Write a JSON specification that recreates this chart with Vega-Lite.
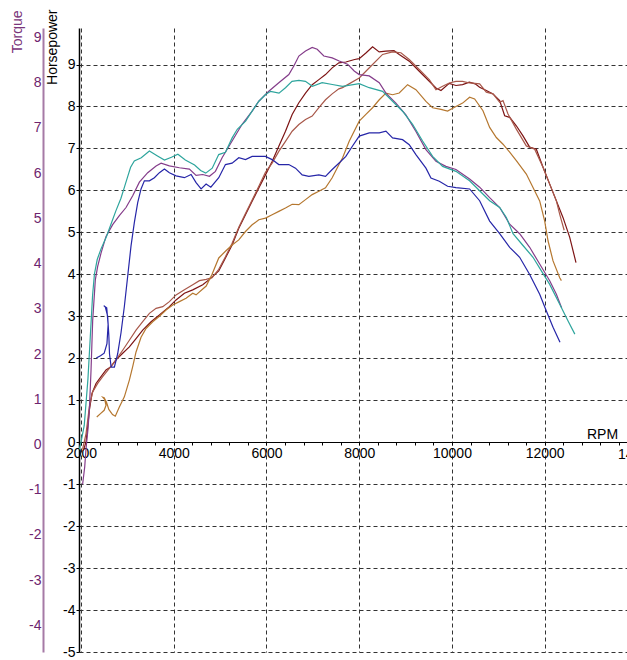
{
  "$schema": "https://vega.github.io/schema/vega-lite/v6.json",
  "autosize": {"type": "none"},
  "width": 548,
  "height": 624,
  "padding": {"left": 79, "top": 28, "right": 0, "bottom": 8},
  "background": "white",
  "config": {"view": {"stroke": null}, "font": "Liberation Sans"},
  "data": {"values": [
    {"curve":"Torque 1","rpm":2035,"value":-0.88},{"curve":"Torque 1","rpm":2080,"value":-0.5},{"curve":"Torque 1","rpm":2108,"value":-0.1},{"curve":"Torque 1","rpm":2150,"value":0.33},{"curve":"Torque 1","rpm":2180,"value":0.76},{"curve":"Torque 1","rpm":2216,"value":1.63},{"curve":"Torque 1","rpm":2252,"value":2.74},{"curve":"Torque 1","rpm":2309,"value":3.64},{"curve":"Torque 1","rpm":2360,"value":3.94},{"curve":"Torque 1","rpm":2432,"value":4.23},{"curve":"Torque 1","rpm":2540,"value":4.6},{"curve":"Torque 1","rpm":2683,"value":4.86},{"curve":"Torque 1","rpm":2827,"value":5.06},{"curve":"Torque 1","rpm":2971,"value":5.24},{"curve":"Torque 1","rpm":3115,"value":5.5},{"curve":"Torque 1","rpm":3259,"value":5.8},{"curve":"Torque 1","rpm":3439,"value":6.01},{"curve":"Torque 1","rpm":3619,"value":6.16},{"curve":"Torque 1","rpm":3727,"value":6.22},{"curve":"Torque 1","rpm":3906,"value":6.16},{"curve":"Torque 1","rpm":4122,"value":6.12},{"curve":"Torque 1","rpm":4338,"value":6.09},{"curve":"Torque 1","rpm":4482,"value":5.95},{"curve":"Torque 1","rpm":4626,"value":5.97},{"curve":"Torque 1","rpm":4770,"value":5.93},{"curve":"Torque 1","rpm":4899,"value":6.04},{"curve":"Torque 1","rpm":5043,"value":6.34},{"curve":"Torque 1","rpm":5259,"value":6.71},{"curve":"Torque 1","rpm":5475,"value":7.08},{"curve":"Torque 1","rpm":5691,"value":7.37},{"curve":"Torque 1","rpm":5835,"value":7.59},{"curve":"Torque 1","rpm":6050,"value":7.81},{"curve":"Torque 1","rpm":6266,"value":8.0},{"curve":"Torque 1","rpm":6482,"value":8.18},{"curve":"Torque 1","rpm":6590,"value":8.37},{"curve":"Torque 1","rpm":6698,"value":8.59},{"curve":"Torque 1","rpm":6842,"value":8.7},{"curve":"Torque 1","rpm":6986,"value":8.78},{"curve":"Torque 1","rpm":7094,"value":8.74},{"curve":"Torque 1","rpm":7237,"value":8.59},{"curve":"Torque 1","rpm":7417,"value":8.55},{"curve":"Torque 1","rpm":7568,"value":8.48},{"curve":"Torque 1","rpm":7748,"value":8.41},{"curve":"Torque 1","rpm":7892,"value":8.26},{"curve":"Torque 1","rpm":8000,"value":8.18},{"curve":"Torque 1","rpm":8216,"value":8.15},{"curve":"Torque 1","rpm":8432,"value":8.0},{"curve":"Torque 1","rpm":8576,"value":7.77},{"curve":"Torque 1","rpm":8791,"value":7.55},{"curve":"Torque 1","rpm":9007,"value":7.29},{"curve":"Torque 1","rpm":9223,"value":6.92},{"curve":"Torque 1","rpm":9439,"value":6.52},{"curve":"Torque 1","rpm":9655,"value":6.26},{"curve":"Torque 1","rpm":9870,"value":6.15},{"curve":"Torque 1","rpm":10086,"value":6.08},{"curve":"Torque 1","rpm":10381,"value":5.87},{"curve":"Torque 1","rpm":10597,"value":5.69},{"curve":"Torque 1","rpm":10813,"value":5.46},{"curve":"Torque 1","rpm":11029,"value":5.24},{"curve":"Torque 1","rpm":11245,"value":4.87},{"curve":"Torque 1","rpm":11460,"value":4.66},{"curve":"Torque 1","rpm":11676,"value":4.36},{"curve":"Torque 1","rpm":11892,"value":3.99},{"curve":"Torque 1","rpm":12108,"value":3.62},{"curve":"Torque 1","rpm":12252,"value":3.32},{"curve":"Torque 1","rpm":12366,"value":3.02},

    {"curve":"Torque 2","rpm":1965,"value":-0.11},{"curve":"Torque 2","rpm":2000,"value":0.05},{"curve":"Torque 2","rpm":2070,"value":0.42},{"curve":"Torque 2","rpm":2150,"value":1.45},{"curve":"Torque 2","rpm":2200,"value":2.37},{"curve":"Torque 2","rpm":2250,"value":3.3},{"curve":"Torque 2","rpm":2290,"value":3.77},{"curve":"Torque 2","rpm":2350,"value":4.09},{"curve":"Torque 2","rpm":2430,"value":4.32},{"curve":"Torque 2","rpm":2550,"value":4.6},{"curve":"Torque 2","rpm":2650,"value":4.88},{"curve":"Torque 2","rpm":2750,"value":5.16},{"curve":"Torque 2","rpm":2860,"value":5.44},{"curve":"Torque 2","rpm":2930,"value":5.67},{"curve":"Torque 2","rpm":3000,"value":5.9},{"curve":"Torque 2","rpm":3070,"value":6.13},{"curve":"Torque 2","rpm":3150,"value":6.27},{"curve":"Torque 2","rpm":3300,"value":6.34},{"curve":"Torque 2","rpm":3475,"value":6.49},{"curve":"Torque 2","rpm":3650,"value":6.38},{"curve":"Torque 2","rpm":3800,"value":6.29},{"curve":"Torque 2","rpm":3950,"value":6.35},{"curve":"Torque 2","rpm":4090,"value":6.42},{"curve":"Torque 2","rpm":4250,"value":6.29},{"curve":"Torque 2","rpm":4450,"value":6.18},{"curve":"Torque 2","rpm":4580,"value":6.06},{"curve":"Torque 2","rpm":4690,"value":6.0},{"curve":"Torque 2","rpm":4830,"value":6.11},{"curve":"Torque 2","rpm":4970,"value":6.41},{"curve":"Torque 2","rpm":5115,"value":6.46},{"curve":"Torque 2","rpm":5260,"value":6.78},{"curve":"Torque 2","rpm":5370,"value":6.97},{"curve":"Torque 2","rpm":5550,"value":7.15},{"curve":"Torque 2","rpm":5690,"value":7.37},{"curve":"Torque 2","rpm":5835,"value":7.59},{"curve":"Torque 2","rpm":5980,"value":7.74},{"curve":"Torque 2","rpm":6090,"value":7.81},{"curve":"Torque 2","rpm":6270,"value":7.77},{"curve":"Torque 2","rpm":6410,"value":7.89},{"curve":"Torque 2","rpm":6550,"value":8.03},{"curve":"Torque 2","rpm":6700,"value":8.05},{"curve":"Torque 2","rpm":6840,"value":8.03},{"curve":"Torque 2","rpm":6990,"value":7.92},{"curve":"Torque 2","rpm":7200,"value":8.0},{"curve":"Torque 2","rpm":7420,"value":7.96},{"curve":"Torque 2","rpm":7640,"value":7.92},{"curve":"Torque 2","rpm":8000,"value":7.98},{"curve":"Torque 2","rpm":8216,"value":7.89},{"curve":"Torque 2","rpm":8504,"value":7.81},{"curve":"Torque 2","rpm":8719,"value":7.59},{"curve":"Torque 2","rpm":8935,"value":7.37},{"curve":"Torque 2","rpm":9151,"value":7.08},{"curve":"Torque 2","rpm":9367,"value":6.71},{"curve":"Torque 2","rpm":9583,"value":6.37},{"curve":"Torque 2","rpm":9799,"value":6.15},{"curve":"Torque 2","rpm":10086,"value":6.04},{"curve":"Torque 2","rpm":10380,"value":5.83},{"curve":"Torque 2","rpm":10597,"value":5.61},{"curve":"Torque 2","rpm":10813,"value":5.39},{"curve":"Torque 2","rpm":11029,"value":5.24},{"curve":"Torque 2","rpm":11173,"value":5.02},{"curve":"Torque 2","rpm":11317,"value":4.66},{"curve":"Torque 2","rpm":11532,"value":4.4},{"curve":"Torque 2","rpm":11748,"value":4.14},{"curve":"Torque 2","rpm":11928,"value":3.84},{"curve":"Torque 2","rpm":12108,"value":3.54},{"curve":"Torque 2","rpm":12324,"value":3.1},{"curve":"Torque 2","rpm":12504,"value":2.73},{"curve":"Torque 2","rpm":12650,"value":2.44},

    {"curve":"Torque 3","rpm":2330,"value":1.91},{"curve":"Torque 3","rpm":2420,"value":1.96},{"curve":"Torque 3","rpm":2500,"value":2.02},{"curve":"Torque 3","rpm":2560,"value":2.23},{"curve":"Torque 3","rpm":2585,"value":2.65},{"curve":"Torque 3","rpm":2555,"value":3.02},{"curve":"Torque 3","rpm":2490,"value":3.07},{"curve":"Torque 3","rpm":2525,"value":3.04},{"curve":"Torque 3","rpm":2575,"value":2.84},{"curve":"Torque 3","rpm":2600,"value":2.42},{"curve":"Torque 3","rpm":2615,"value":2.0},{"curve":"Torque 3","rpm":2650,"value":1.71},{"curve":"Torque 3","rpm":2720,"value":1.71},{"curve":"Torque 3","rpm":2790,"value":2.0},{"curve":"Torque 3","rpm":2863,"value":2.47},{"curve":"Torque 3","rpm":2935,"value":3.05},{"curve":"Torque 3","rpm":3007,"value":3.72},{"curve":"Torque 3","rpm":3079,"value":4.39},{"curve":"Torque 3","rpm":3151,"value":4.91},{"curve":"Torque 3","rpm":3223,"value":5.35},{"curve":"Torque 3","rpm":3295,"value":5.65},{"curve":"Torque 3","rpm":3367,"value":5.83},{"curve":"Torque 3","rpm":3475,"value":5.83},{"curve":"Torque 3","rpm":3583,"value":5.9},{"curve":"Torque 3","rpm":3691,"value":6.01},{"curve":"Torque 3","rpm":3799,"value":6.09},{"curve":"Torque 3","rpm":3906,"value":6.01},{"curve":"Torque 3","rpm":4050,"value":5.94},{"curve":"Torque 3","rpm":4230,"value":5.9},{"curve":"Torque 3","rpm":4374,"value":5.97},{"curve":"Torque 3","rpm":4482,"value":5.79},{"curve":"Torque 3","rpm":4590,"value":5.65},{"curve":"Torque 3","rpm":4698,"value":5.76},{"curve":"Torque 3","rpm":4800,"value":5.69},{"curve":"Torque 3","rpm":4971,"value":5.9},{"curve":"Torque 3","rpm":5115,"value":6.19},{"curve":"Torque 3","rpm":5259,"value":6.22},{"curve":"Torque 3","rpm":5403,"value":6.34},{"curve":"Torque 3","rpm":5547,"value":6.3},{"curve":"Torque 3","rpm":5691,"value":6.37},{"curve":"Torque 3","rpm":5978,"value":6.37},{"curve":"Torque 3","rpm":6122,"value":6.3},{"curve":"Torque 3","rpm":6266,"value":6.19},{"curve":"Torque 3","rpm":6482,"value":6.19},{"curve":"Torque 3","rpm":6626,"value":6.11},{"curve":"Torque 3","rpm":6770,"value":5.96},{"curve":"Torque 3","rpm":6914,"value":5.93},{"curve":"Torque 3","rpm":7130,"value":5.96},{"curve":"Torque 3","rpm":7273,"value":5.93},{"curve":"Torque 3","rpm":7417,"value":6.08},{"curve":"Torque 3","rpm":7561,"value":6.22},{"curve":"Torque 3","rpm":7712,"value":6.37},{"curve":"Torque 3","rpm":7856,"value":6.6},{"curve":"Torque 3","rpm":8000,"value":6.82},{"curve":"Torque 3","rpm":8216,"value":6.89},{"curve":"Torque 3","rpm":8432,"value":6.89},{"curve":"Torque 3","rpm":8576,"value":6.93},{"curve":"Torque 3","rpm":8719,"value":6.78},{"curve":"Torque 3","rpm":8935,"value":6.74},{"curve":"Torque 3","rpm":9079,"value":6.63},{"curve":"Torque 3","rpm":9223,"value":6.41},{"curve":"Torque 3","rpm":9439,"value":6.11},{"curve":"Torque 3","rpm":9547,"value":5.89},{"curve":"Torque 3","rpm":9727,"value":5.82},{"curve":"Torque 3","rpm":9906,"value":5.71},{"curve":"Torque 3","rpm":10086,"value":5.68},{"curve":"Torque 3","rpm":10381,"value":5.65},{"curve":"Torque 3","rpm":10597,"value":5.39},{"curve":"Torque 3","rpm":10813,"value":4.94},{"curve":"Torque 3","rpm":11029,"value":4.66},{"curve":"Torque 3","rpm":11245,"value":4.36},{"curve":"Torque 3","rpm":11460,"value":4.14},{"curve":"Torque 3","rpm":11676,"value":3.76},{"curve":"Torque 3","rpm":11892,"value":3.32},{"curve":"Torque 3","rpm":12036,"value":2.95},{"curve":"Torque 3","rpm":12180,"value":2.59},{"curve":"Torque 3","rpm":12330,"value":2.26},

    {"curve":"Horsepower 1","rpm":2050,"value":-0.2},{"curve":"Horsepower 1","rpm":2108,"value":0.0},{"curve":"Horsepower 1","rpm":2144,"value":0.36},{"curve":"Horsepower 1","rpm":2180,"value":0.76},{"curve":"Horsepower 1","rpm":2237,"value":1.16},{"curve":"Horsepower 1","rpm":2324,"value":1.4},{"curve":"Horsepower 1","rpm":2432,"value":1.56},{"curve":"Horsepower 1","rpm":2540,"value":1.72},{"curve":"Horsepower 1","rpm":2647,"value":1.8},{"curve":"Horsepower 1","rpm":2755,"value":1.96},{"curve":"Horsepower 1","rpm":2899,"value":2.12},{"curve":"Horsepower 1","rpm":3043,"value":2.27},{"curve":"Horsepower 1","rpm":3187,"value":2.47},{"curve":"Horsepower 1","rpm":3331,"value":2.67},{"curve":"Horsepower 1","rpm":3511,"value":2.87},{"curve":"Horsepower 1","rpm":3691,"value":3.03},{"curve":"Horsepower 1","rpm":3906,"value":3.23},{"curve":"Horsepower 1","rpm":4050,"value":3.39},{"curve":"Horsepower 1","rpm":4230,"value":3.55},{"curve":"Horsepower 1","rpm":4410,"value":3.63},{"curve":"Horsepower 1","rpm":4626,"value":3.75},{"curve":"Horsepower 1","rpm":4770,"value":3.88},{"curve":"Horsepower 1","rpm":4971,"value":4.08},{"curve":"Horsepower 1","rpm":5115,"value":4.39},{"curve":"Horsepower 1","rpm":5259,"value":4.7},{"curve":"Horsepower 1","rpm":5403,"value":5.1},{"curve":"Horsepower 1","rpm":5547,"value":5.42},{"curve":"Horsepower 1","rpm":5691,"value":5.74},{"curve":"Horsepower 1","rpm":5835,"value":6.06},{"curve":"Horsepower 1","rpm":5978,"value":6.37},{"curve":"Horsepower 1","rpm":6122,"value":6.69},{"curve":"Horsepower 1","rpm":6266,"value":7.05},{"curve":"Horsepower 1","rpm":6410,"value":7.41},{"curve":"Horsepower 1","rpm":6554,"value":7.81},{"curve":"Horsepower 1","rpm":6698,"value":8.09},{"curve":"Horsepower 1","rpm":6842,"value":8.32},{"curve":"Horsepower 1","rpm":6986,"value":8.52},{"curve":"Horsepower 1","rpm":7130,"value":8.64},{"curve":"Horsepower 1","rpm":7273,"value":8.76},{"curve":"Horsepower 1","rpm":7417,"value":8.92},{"curve":"Horsepower 1","rpm":7561,"value":9.04},{"curve":"Horsepower 1","rpm":7712,"value":9.06},{"curve":"Horsepower 1","rpm":7900,"value":9.12},{"curve":"Horsepower 1","rpm":8000,"value":9.14},{"curve":"Horsepower 1","rpm":8150,"value":9.28},{"curve":"Horsepower 1","rpm":8288,"value":9.42},{"curve":"Horsepower 1","rpm":8430,"value":9.3},{"curve":"Horsepower 1","rpm":8576,"value":9.32},{"curve":"Horsepower 1","rpm":8750,"value":9.33},{"curve":"Horsepower 1","rpm":8863,"value":9.24},{"curve":"Horsepower 1","rpm":9079,"value":9.08},{"curve":"Horsepower 1","rpm":9295,"value":8.84},{"curve":"Horsepower 1","rpm":9511,"value":8.6},{"curve":"Horsepower 1","rpm":9655,"value":8.44},{"curve":"Horsepower 1","rpm":9763,"value":8.38},{"curve":"Horsepower 1","rpm":9942,"value":8.55},{"curve":"Horsepower 1","rpm":10086,"value":8.5},{"curve":"Horsepower 1","rpm":10230,"value":8.52},{"curve":"Horsepower 1","rpm":10374,"value":8.58},{"curve":"Horsepower 1","rpm":10500,"value":8.54},{"curve":"Horsepower 1","rpm":10597,"value":8.46},{"curve":"Horsepower 1","rpm":10741,"value":8.38},{"curve":"Horsepower 1","rpm":10885,"value":8.3},{"curve":"Horsepower 1","rpm":11029,"value":8.14},{"curve":"Horsepower 1","rpm":11137,"value":7.78},{"curve":"Horsepower 1","rpm":11245,"value":7.74},{"curve":"Horsepower 1","rpm":11388,"value":7.54},{"curve":"Horsepower 1","rpm":11532,"value":7.3},{"curve":"Horsepower 1","rpm":11676,"value":7.03},{"curve":"Horsepower 1","rpm":11820,"value":6.98},{"curve":"Horsepower 1","rpm":11964,"value":6.55},{"curve":"Horsepower 1","rpm":12108,"value":6.15},{"curve":"Horsepower 1","rpm":12252,"value":5.75},{"curve":"Horsepower 1","rpm":12396,"value":5.35},{"curve":"Horsepower 1","rpm":12540,"value":4.88},{"curve":"Horsepower 1","rpm":12675,"value":4.28},

    {"curve":"Horsepower 2","rpm":2036,"value":-0.16},{"curve":"Horsepower 2","rpm":2108,"value":0.2},{"curve":"Horsepower 2","rpm":2180,"value":0.84},{"curve":"Horsepower 2","rpm":2252,"value":1.2},{"curve":"Horsepower 2","rpm":2360,"value":1.4},{"curve":"Horsepower 2","rpm":2468,"value":1.56},{"curve":"Horsepower 2","rpm":2611,"value":1.76},{"curve":"Horsepower 2","rpm":2755,"value":1.96},{"curve":"Horsepower 2","rpm":2899,"value":2.19},{"curve":"Horsepower 2","rpm":3043,"value":2.43},{"curve":"Horsepower 2","rpm":3187,"value":2.67},{"curve":"Horsepower 2","rpm":3331,"value":2.87},{"curve":"Horsepower 2","rpm":3475,"value":3.07},{"curve":"Horsepower 2","rpm":3619,"value":3.19},{"curve":"Horsepower 2","rpm":3763,"value":3.23},{"curve":"Horsepower 2","rpm":3906,"value":3.35},{"curve":"Horsepower 2","rpm":4050,"value":3.51},{"curve":"Horsepower 2","rpm":4230,"value":3.63},{"curve":"Horsepower 2","rpm":4410,"value":3.75},{"curve":"Horsepower 2","rpm":4554,"value":3.85},{"curve":"Horsepower 2","rpm":4700,"value":3.88},{"curve":"Horsepower 2","rpm":4827,"value":3.92},{"curve":"Horsepower 2","rpm":4971,"value":4.12},{"curve":"Horsepower 2","rpm":5115,"value":4.42},{"curve":"Horsepower 2","rpm":5259,"value":4.74},{"curve":"Horsepower 2","rpm":5403,"value":5.12},{"curve":"Horsepower 2","rpm":5547,"value":5.45},{"curve":"Horsepower 2","rpm":5691,"value":5.77},{"curve":"Horsepower 2","rpm":5835,"value":6.1},{"curve":"Horsepower 2","rpm":5978,"value":6.43},{"curve":"Horsepower 2","rpm":6122,"value":6.65},{"curve":"Horsepower 2","rpm":6266,"value":6.93},{"curve":"Horsepower 2","rpm":6410,"value":7.17},{"curve":"Horsepower 2","rpm":6554,"value":7.41},{"curve":"Horsepower 2","rpm":6698,"value":7.57},{"curve":"Horsepower 2","rpm":6842,"value":7.69},{"curve":"Horsepower 2","rpm":6986,"value":7.77},{"curve":"Horsepower 2","rpm":7130,"value":7.97},{"curve":"Horsepower 2","rpm":7273,"value":8.16},{"curve":"Horsepower 2","rpm":7417,"value":8.3},{"curve":"Horsepower 2","rpm":7561,"value":8.42},{"curve":"Horsepower 2","rpm":7640,"value":8.45},{"curve":"Horsepower 2","rpm":8000,"value":8.68},{"curve":"Horsepower 2","rpm":8288,"value":9.0},{"curve":"Horsepower 2","rpm":8504,"value":9.24},{"curve":"Horsepower 2","rpm":8719,"value":9.3},{"curve":"Horsepower 2","rpm":8899,"value":9.28},{"curve":"Horsepower 2","rpm":9079,"value":9.12},{"curve":"Horsepower 2","rpm":9295,"value":8.88},{"curve":"Horsepower 2","rpm":9511,"value":8.64},{"curve":"Horsepower 2","rpm":9655,"value":8.4},{"curve":"Horsepower 2","rpm":9799,"value":8.48},{"curve":"Horsepower 2","rpm":9942,"value":8.56},{"curve":"Horsepower 2","rpm":10086,"value":8.6},{"curve":"Horsepower 2","rpm":10230,"value":8.6},{"curve":"Horsepower 2","rpm":10381,"value":8.56},{"curve":"Horsepower 2","rpm":10597,"value":8.54},{"curve":"Horsepower 2","rpm":10741,"value":8.34},{"curve":"Horsepower 2","rpm":10885,"value":8.3},{"curve":"Horsepower 2","rpm":11029,"value":8.1},{"curve":"Horsepower 2","rpm":11101,"value":8.14},{"curve":"Horsepower 2","rpm":11209,"value":7.82},{"curve":"Horsepower 2","rpm":11388,"value":7.46},{"curve":"Horsepower 2","rpm":11604,"value":7.06},{"curve":"Horsepower 2","rpm":11784,"value":6.98},{"curve":"Horsepower 2","rpm":11964,"value":6.55},{"curve":"Horsepower 2","rpm":12108,"value":6.15},{"curve":"Horsepower 2","rpm":12252,"value":5.75},{"curve":"Horsepower 2","rpm":12324,"value":5.43},{"curve":"Horsepower 2","rpm":12420,"value":5.05},

    {"curve":"Horsepower 3","rpm":2340,"value":0.6},{"curve":"Horsepower 3","rpm":2420,"value":0.68},{"curve":"Horsepower 3","rpm":2500,"value":0.76},{"curve":"Horsepower 3","rpm":2540,"value":0.88},{"curve":"Horsepower 3","rpm":2510,"value":1.02},{"curve":"Horsepower 3","rpm":2470,"value":1.07},{"curve":"Horsepower 3","rpm":2500,"value":1.06},{"curve":"Horsepower 3","rpm":2550,"value":0.95},{"curve":"Horsepower 3","rpm":2600,"value":0.78},{"curve":"Horsepower 3","rpm":2680,"value":0.66},{"curve":"Horsepower 3","rpm":2740,"value":0.62},{"curve":"Horsepower 3","rpm":2827,"value":0.84},{"curve":"Horsepower 3","rpm":2935,"value":1.08},{"curve":"Horsepower 3","rpm":3043,"value":1.48},{"curve":"Horsepower 3","rpm":3115,"value":1.8},{"curve":"Horsepower 3","rpm":3187,"value":2.15},{"curve":"Horsepower 3","rpm":3295,"value":2.5},{"curve":"Horsepower 3","rpm":3403,"value":2.71},{"curve":"Horsepower 3","rpm":3547,"value":2.87},{"curve":"Horsepower 3","rpm":3691,"value":3.0},{"curve":"Horsepower 3","rpm":3834,"value":3.15},{"curve":"Horsepower 3","rpm":3978,"value":3.27},{"curve":"Horsepower 3","rpm":4122,"value":3.35},{"curve":"Horsepower 3","rpm":4266,"value":3.43},{"curve":"Horsepower 3","rpm":4410,"value":3.55},{"curve":"Horsepower 3","rpm":4482,"value":3.51},{"curve":"Horsepower 3","rpm":4626,"value":3.65},{"curve":"Horsepower 3","rpm":4700,"value":3.72},{"curve":"Horsepower 3","rpm":4827,"value":4.0},{"curve":"Horsepower 3","rpm":4971,"value":4.39},{"curve":"Horsepower 3","rpm":5115,"value":4.55},{"curve":"Horsepower 3","rpm":5259,"value":4.7},{"curve":"Horsepower 3","rpm":5403,"value":4.82},{"curve":"Horsepower 3","rpm":5547,"value":5.02},{"curve":"Horsepower 3","rpm":5691,"value":5.18},{"curve":"Horsepower 3","rpm":5835,"value":5.3},{"curve":"Horsepower 3","rpm":5978,"value":5.34},{"curve":"Horsepower 3","rpm":6122,"value":5.42},{"curve":"Horsepower 3","rpm":6266,"value":5.5},{"curve":"Horsepower 3","rpm":6410,"value":5.58},{"curve":"Horsepower 3","rpm":6554,"value":5.67},{"curve":"Horsepower 3","rpm":6698,"value":5.66},{"curve":"Horsepower 3","rpm":6842,"value":5.78},{"curve":"Horsepower 3","rpm":6986,"value":5.9},{"curve":"Horsepower 3","rpm":7130,"value":5.98},{"curve":"Horsepower 3","rpm":7273,"value":6.06},{"curve":"Horsepower 3","rpm":7417,"value":6.3},{"curve":"Horsepower 3","rpm":7561,"value":6.61},{"curve":"Horsepower 3","rpm":7640,"value":6.77},{"curve":"Horsepower 3","rpm":7784,"value":7.17},{"curve":"Horsepower 3","rpm":8000,"value":7.65},{"curve":"Horsepower 3","rpm":8144,"value":7.81},{"curve":"Horsepower 3","rpm":8288,"value":7.97},{"curve":"Horsepower 3","rpm":8432,"value":8.16},{"curve":"Horsepower 3","rpm":8576,"value":8.32},{"curve":"Horsepower 3","rpm":8719,"value":8.28},{"curve":"Horsepower 3","rpm":8863,"value":8.32},{"curve":"Horsepower 3","rpm":9043,"value":8.52},{"curve":"Horsepower 3","rpm":9223,"value":8.4},{"curve":"Horsepower 3","rpm":9439,"value":8.12},{"curve":"Horsepower 3","rpm":9583,"value":7.97},{"curve":"Horsepower 3","rpm":9763,"value":7.93},{"curve":"Horsepower 3","rpm":9906,"value":7.89},{"curve":"Horsepower 3","rpm":10086,"value":8.0},{"curve":"Horsepower 3","rpm":10230,"value":8.08},{"curve":"Horsepower 3","rpm":10381,"value":8.22},{"curve":"Horsepower 3","rpm":10489,"value":8.18},{"curve":"Horsepower 3","rpm":10669,"value":7.9},{"curve":"Horsepower 3","rpm":10813,"value":7.5},{"curve":"Horsepower 3","rpm":10957,"value":7.26},{"curve":"Horsepower 3","rpm":11101,"value":7.1},{"curve":"Horsepower 3","rpm":11245,"value":6.91},{"curve":"Horsepower 3","rpm":11388,"value":6.71},{"curve":"Horsepower 3","rpm":11604,"value":6.39},{"curve":"Horsepower 3","rpm":11748,"value":6.07},{"curve":"Horsepower 3","rpm":11892,"value":5.75},{"curve":"Horsepower 3","rpm":12000,"value":5.27},{"curve":"Horsepower 3","rpm":12072,"value":4.8},{"curve":"Horsepower 3","rpm":12180,"value":4.32},{"curve":"Horsepower 3","rpm":12324,"value":3.92},{"curve":"Horsepower 3","rpm":12360,"value":3.85}
  ]},
  "layer": [
    {
      "transform": [{"filter": {"field": "curve", "oneOf": ["Horsepower 1", "Horsepower 2", "Horsepower 3"]}}],
      "mark": {"type": "line", "strokeWidth": 1.2, "clip": false},
      "encoding": {
        "x": {
          "field": "rpm", "type": "quantitative",
          "scale": {"domain": [1957, 13775], "nice": false, "zero": false},
          "axis": {
            "orient": "bottom", "title": null,
            "values": [2000, 4000, 6000, 8000, 10000, 12000, 14000],
            "grid": true, "gridColor": "#333333", "gridDash": [4, 3], "gridWidth": 1, "gridOpacity": 1,
            "labels": false, "ticks": false, "domain": false
          }
        },
        "y": {
          "field": "value", "type": "quantitative",
          "scale": {"domain": [-5, 9.87], "nice": false, "zero": false},
          "axis": {
            "orient": "left", "title": "Horsepower",
            "values": [-5, -4, -3, -2, -1, 0, 1, 2, 3, 4, 5, 6, 7, 8, 9],
            "labelExpr": "'' + datum.value",
            "grid": true, "gridColor": "#333333", "gridDash": [4, 3], "gridWidth": 1, "gridOpacity": 1,
            "domainColor": "#000000", "domainWidth": 1.5,
            "tickColor": "#000000", "tickSize": 3, "tickWidth": 1,
            "labelColor": "#000000", "labelFontSize": 14, "labelPadding": 1, "labelFont": "Liberation Sans",
            "labelOverlap": false, "labelBound": false, "labelFlush": false,
            "titleColor": "#000000", "titleFontSize": 14, "titleFontWeight": "normal", "titleFont": "Liberation Sans",
            "titleAngle": 270, "titleAlign": "right", "titleBaseline": "middle", "titleX": -27, "titleY": -19
          }
        },
        "color": {
          "field": "curve", "type": "nominal",
          "scale": {
            "domain": ["Torque 1", "Torque 2", "Torque 3", "Horsepower 1", "Horsepower 2", "Horsepower 3"],
            "range": ["#843c8a", "#2ea59d", "#2626a8", "#7d1414", "#a8584a", "#b5772f"]
          },
          "legend": null
        },
        "order": {"value": null}
      }
    },
    {
      "transform": [{"filter": {"field": "curve", "oneOf": ["Torque 1", "Torque 2", "Torque 3"]}}],
      "mark": {"type": "line", "strokeWidth": 1.2, "clip": false},
      "encoding": {
        "x": {
          "field": "rpm", "type": "quantitative",
          "scale": {"domain": [1957, 13775], "nice": false, "zero": false},
          "axis": {
            "orient": "bottom", "offset": -210, "title": "RPM",
            "values": [2000, 2400, 2800, 3200, 3600, 4000, 4400, 4800, 5200, 5600, 6000, 6400, 6800, 7200, 7600, 8000, 8400, 8800, 9200, 9600, 10000, 10400, 10800, 11200, 11600, 12000, 12400, 12800, 13200, 13600],
            "labelExpr": "datum.value % 2000 === 0 ? '' + datum.value : ''",
            "grid": false,
            "domainColor": "#000000", "domainWidth": 1,
            "tickColor": "#000000", "tickSize": 3, "tickWidth": 1,
            "labelColor": "#000000", "labelFontSize": 14, "labelPadding": 1, "labelFont": "Liberation Sans",
            "labelOverlap": false, "labelBound": false, "labelFlush": false,
            "titleColor": "#000000", "titleFontSize": 14, "titleFontWeight": "normal", "titleFont": "Liberation Sans",
            "titleAngle": 0, "titleAlign": "center", "titleBaseline": "middle", "titleX": 523, "titleY": -8
          }
        },
        "y": {
          "field": "value", "type": "quantitative",
          "scale": {"domain": [-4.59, 9.21], "nice": false, "zero": false},
          "axis": {
            "orient": "left", "offset": 36, "title": "Torque",
            "values": [-4, -3, -2, -1, 0, 1, 2, 3, 4, 5, 6, 7, 8, 9],
            "labelExpr": "'' + datum.value",
            "grid": false, "ticks": false,
            "domainColor": "#a67aa6", "domainWidth": 2,
            "labelColor": "#6e246e", "labelFontSize": 14, "labelPadding": 2, "labelFont": "Liberation Sans",
            "labelOverlap": false, "labelBound": false, "labelFlush": false,
            "titleColor": "#7a357a", "titleFontSize": 14, "titleFontWeight": "normal", "titleFont": "Liberation Sans",
            "titleAngle": 270, "titleAlign": "right", "titleBaseline": "middle", "titleX": -26, "titleY": -18
          }
        },
        "color": {
          "field": "curve", "type": "nominal",
          "scale": {
            "domain": ["Torque 1", "Torque 2", "Torque 3", "Horsepower 1", "Horsepower 2", "Horsepower 3"],
            "range": ["#843c8a", "#2ea59d", "#2626a8", "#7d1414", "#a8584a", "#b5772f"]
          },
          "legend": null
        },
        "order": {"value": null}
      }
    },
    {
      "data": {"values": [{"label": "14000"}]},
      "mark": {"type": "text", "align": "center", "baseline": "top", "dy": 6, "fontSize": 14, "font": "Liberation Sans", "color": "#000000", "clip": false},
      "encoding": {
        "x": {"datum": 14000, "type": "quantitative", "scale": {"domain": [1957, 13775], "nice": false, "zero": false}, "axis": null},
        "y": {"datum": 0, "type": "quantitative", "scale": {"domain": [-5, 9.87], "nice": false, "zero": false}, "axis": null},
        "text": {"field": "label"}
      }
    }
  ],
  "resolve": {"scale": {"y": "independent"}, "axis": {"x": "independent"}}
}
